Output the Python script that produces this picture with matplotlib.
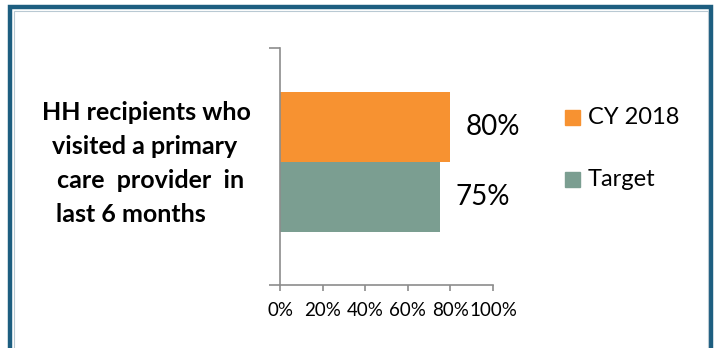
import matplotlib
matplotlib.use("Agg")
import matplotlib.pyplot as plt
from matplotlib.patches import Rectangle

# data
series = ["CY 2018", "Target"]
values = [80, 75]
colors = ["#F79231", "#7B9E91"]
category = ["HH recipients who", "visited a primary", "care  provider  in", "last 6 months"]
xticks = [0, 20, 40, 60, 80, 100]

FONT = "Lato"
W, H = 715, 348
fig = plt.figure(figsize=(W / 100, H / 100), dpi=100)
fig.patch.set_facecolor("white")

# frame
fig.patches.append(Rectangle((10 / W, -0.1), (711 - 10) / W, 1.1 - 7 / H,
                             transform=fig.transFigure, fill=False, edgecolor="#1D5E80", lw=3.2))
fig.patches.append(Rectangle((13.5 / W, -0.1), (707.5 - 13.5) / W, 1.1 - 10.5 / H,
                             transform=fig.transFigure, fill=False, edgecolor="#B9C9D3", lw=0.8))

ax = fig.add_axes([280 / W, 63 / H, 213 / W, 237 / H])
ypos = [0.667, 0.371]
for y, v, c, s in zip(ypos, values, colors, series):
    ax.barh(y, v, height=0.296, color=c, label=s)
    ax.annotate(f"{v}%", (v, y), xytext=(11, 0), textcoords="offset points",
                ha="left", va="center", fontsize=20, family=FONT, color="black")

ax.set_xlim(0, 100)
ax.set_ylim(0, 1)
ax.set_xticks(xticks)
ax.set_xticklabels([f"{t}%" for t in xticks], family=FONT, fontsize=13.5)
ax.tick_params(axis="x", direction="out", length=4, width=1.2, color="#8C8C8C", pad=8)
ax.set_yticks([0, 1])
ax.set_yticklabels([])
ax.tick_params(axis="y", direction="out", length=8, width=1.2, color="#8C8C8C")
for sp in ["top", "right"]:
    ax.spines[sp].set_visible(False)
for sp in ["left", "bottom"]:
    ax.spines[sp].set_color("#8C8C8C")
    ax.spines[sp].set_linewidth(1.2)

# category label
xs = [42, 52, 57, 56]
ys = [113, 146, 180, 215]
for t, x, y in zip(category, xs, ys):
    fig.text(x / W, 1 - y / H, t, ha="left", va="center", fontsize=18,
             fontweight="bold", family=FONT, color="black")

# legend
ly = [117, 179]
for c, s, y in zip(colors, series, ly):
    fig.patches.append(Rectangle((565 / W, 1 - (y + 7.5) / H), 15 / W, 15 / H,
                                 transform=fig.transFigure, color=c))
    fig.text(588 / W, 1 - y / H, s, ha="left", va="center", fontsize=17,
             family=FONT, color="black")

fig.savefig("out.png", dpi=100)
